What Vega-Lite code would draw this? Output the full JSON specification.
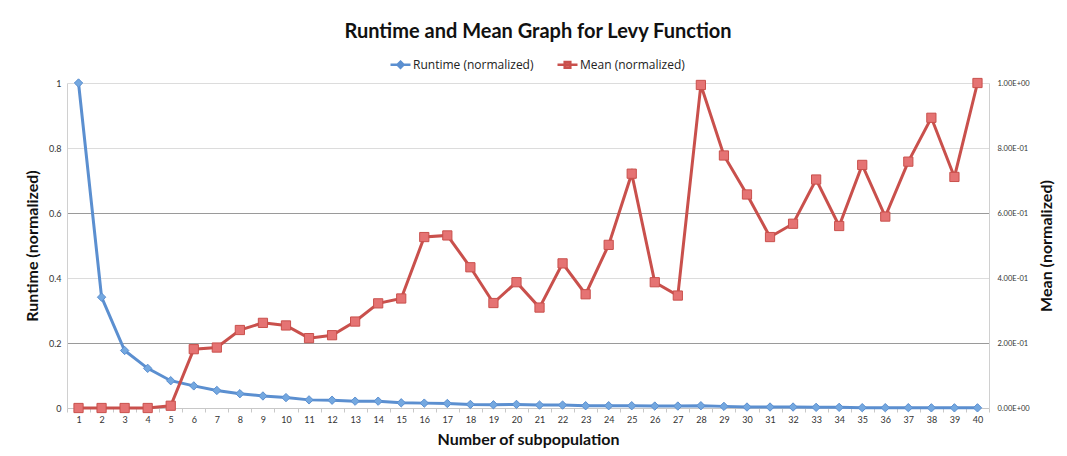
{
  "$schema": "https://vega.github.io/schema/vega-lite/v6.json",
  "width": 922,
  "height": 325,
  "autosize": {"type": "none"},
  "padding": {"left": 67, "top": 83, "right": 78, "bottom": 48},
  "background": "white",
  "title": {
    "text": "Runtime and Mean Graph for Levy Function",
    "font": "Lato",
    "fontSize": 20,
    "fontWeight": "bold",
    "color": "#111",
    "anchor": "middle",
    "frame": "group",
    "dx": 10,
    "offset": 11
  },
  "data": {
    "values": [
      {"n": 1, "runtime": 1.0, "mean": 0.0},
      {"n": 2, "runtime": 0.341, "mean": 0.0},
      {"n": 3, "runtime": 0.177, "mean": 0.0},
      {"n": 4, "runtime": 0.122, "mean": 0.0},
      {"n": 5, "runtime": 0.084, "mean": 0.007},
      {"n": 6, "runtime": 0.068, "mean": 0.181},
      {"n": 7, "runtime": 0.054, "mean": 0.186},
      {"n": 8, "runtime": 0.044, "mean": 0.24},
      {"n": 9, "runtime": 0.037, "mean": 0.262},
      {"n": 10, "runtime": 0.032, "mean": 0.254},
      {"n": 11, "runtime": 0.025, "mean": 0.215},
      {"n": 12, "runtime": 0.024, "mean": 0.224},
      {"n": 13, "runtime": 0.021, "mean": 0.266},
      {"n": 14, "runtime": 0.021, "mean": 0.322},
      {"n": 15, "runtime": 0.016, "mean": 0.337},
      {"n": 16, "runtime": 0.015, "mean": 0.526},
      {"n": 17, "runtime": 0.014, "mean": 0.531},
      {"n": 18, "runtime": 0.011, "mean": 0.433},
      {"n": 19, "runtime": 0.01, "mean": 0.323},
      {"n": 20, "runtime": 0.011, "mean": 0.387},
      {"n": 21, "runtime": 0.009, "mean": 0.309},
      {"n": 22, "runtime": 0.009, "mean": 0.445},
      {"n": 23, "runtime": 0.007, "mean": 0.35},
      {"n": 24, "runtime": 0.007, "mean": 0.502},
      {"n": 25, "runtime": 0.007, "mean": 0.721},
      {"n": 26, "runtime": 0.006, "mean": 0.387},
      {"n": 27, "runtime": 0.006, "mean": 0.346},
      {"n": 28, "runtime": 0.007, "mean": 0.994},
      {"n": 29, "runtime": 0.005, "mean": 0.777},
      {"n": 30, "runtime": 0.003, "mean": 0.657},
      {"n": 31, "runtime": 0.003, "mean": 0.526},
      {"n": 32, "runtime": 0.003, "mean": 0.567},
      {"n": 33, "runtime": 0.002, "mean": 0.703},
      {"n": 34, "runtime": 0.002, "mean": 0.56},
      {"n": 35, "runtime": 0.001, "mean": 0.748},
      {"n": 36, "runtime": 0.001, "mean": 0.589},
      {"n": 37, "runtime": 0.001, "mean": 0.758},
      {"n": 38, "runtime": 0.0005, "mean": 0.893},
      {"n": 39, "runtime": 0.0005, "mean": 0.711},
      {"n": 40, "runtime": 0.0005, "mean": 1.0}
    ]
  },
  "encoding": {
    "x": {
      "field": "n",
      "type": "ordinal",
      "scale": {"paddingInner": 0, "paddingOuter": 0},
      "axis": {
        "title": "Number of subpopulation",
        "titleFont": "Lato",
        "titleFontSize": 16,
        "titleFontWeight": "bold",
        "titleColor": "#111",
        "titlePadding": 7,
        "labelAngle": 0,
        "labelFont": "Lato",
        "labelFontSize": 9,
        "labelColor": "#333",
        "labelPadding": 3,
        "domainColor": "#c8c8c8",
        "tickColor": "#c8c8c8",
        "tickSize": 4,
        "tickBand": "extent",
        "grid": false
      }
    }
  },
  "layer": [
    {
      "mark": {"type": "line", "strokeWidth": 3},
      "encoding": {
        "y": {
          "field": "runtime",
          "type": "quantitative",
          "scale": {"domain": [0, 1]},
          "axis": {
            "orient": "left",
            "title": "Runtime (normalized)",
            "titleFont": "Lato",
            "titleFontSize": 16,
            "titleFontWeight": "bold",
            "titleColor": "#111",
            "titlePadding": 8,
            "values": [0, 0.2, 0.4, 0.6, 0.8, 1],
            "format": ".1~f",
            "labelFont": "Lato",
            "labelFontSize": 9,
            "labelColor": "#333",
            "labelPadding": 6,
            "domainColor": "#d0d0d0",
            "ticks": false,
            "grid": true,
            "gridColor": {
              "condition": {"test": "abs(datum.value - 0.2) < 0.01 || abs(datum.value - 0.6) < 0.01", "value": "#9a9a9a"},
              "value": "#dcdcdc"
            },
            "gridWidth": 1
          }
        },
        "color": {
          "datum": "Runtime (normalized)",
          "type": "nominal",
          "scale": {"domain": ["Runtime (normalized)", "Mean (normalized)"], "range": ["#5b8fd0", "#c9504c"]},
          "legend": {
            "title": null,
            "orient": "none",
            "direction": "horizontal",
            "legendX": 322,
            "legendY": -30,
            "labelFont": "Open Sans",
            "labelFontSize": 12,
            "labelColor": "#222",
            "labelOffset": 1,
            "symbolSize": 400,
            "columnPadding": 18,
            "encode": {
              "symbols": {
                "update": {
                  "shape": {"signal": "datum.value === 'Runtime (normalized)' ? 'M-1,0H1M0,-0.3L0.3,0L0,0.3L-0.3,0Z' : 'M-1,0H1M-0.28,-0.28H0.28V0.28H-0.28Z'"},
                  "fill": {"signal": "datum.value === 'Runtime (normalized)' ? '#74a8e0' : '#e57373'"},
                  "stroke": {"signal": "datum.value === 'Runtime (normalized)' ? '#5b8fd0' : '#c9504c'"},
                  "strokeWidth": {"value": 2.5},
                  "opacity": {"value": 1},
                  "fillOpacity": {"value": 1}
                }
              }
            }
          }
        }
      }
    },
    {
      "mark": {"type": "point", "shape": "diamond", "filled": true, "size": 70, "fill": "#74a8e0", "stroke": "#5b8fd0", "strokeWidth": 1, "opacity": 1},
      "encoding": {
        "y": {"field": "runtime", "type": "quantitative", "scale": {"domain": [0, 1]}, "axis": null}
      }
    },
    {
      "mark": {"type": "line", "strokeWidth": 3},
      "encoding": {
        "y": {
          "field": "mean",
          "type": "quantitative",
          "scale": {"domain": [0, 1]},
          "axis": {
            "orient": "right",
            "title": "Mean (normalized)",
            "titleAngle": 270,
            "titleFont": "Lato",
            "titleFontSize": 16,
            "titleFontWeight": "bold",
            "titleColor": "#111",
            "titlePadding": 25,
            "values": [0, 0.2, 0.4, 0.6, 0.8, 1],
            "labelExpr": "datum.value == 0 ? '0.00E+00' : (datum.value >= 0.999 ? '1.00E+00' : format(datum.value * 10, '.2f') + 'E-01')",
            "labelFont": "Lato",
            "labelFontSize": 7.5,
            "labelColor": "#333",
            "labelPadding": 8,
            "domainColor": "#d0d0d0",
            "ticks": false,
            "grid": false
          }
        },
        "color": {"datum": "Mean (normalized)", "type": "nominal"}
      }
    },
    {
      "mark": {"type": "point", "shape": "square", "filled": true, "size": 85, "fill": "#e57373", "stroke": "#c9504c", "strokeWidth": 1, "opacity": 1},
      "encoding": {
        "y": {"field": "mean", "type": "quantitative", "scale": {"domain": [0, 1]}, "axis": null}
      }
    }
  ],
  "resolve": {"scale": {"y": "independent"}},
  "config": {"view": {"stroke": null}}
}
